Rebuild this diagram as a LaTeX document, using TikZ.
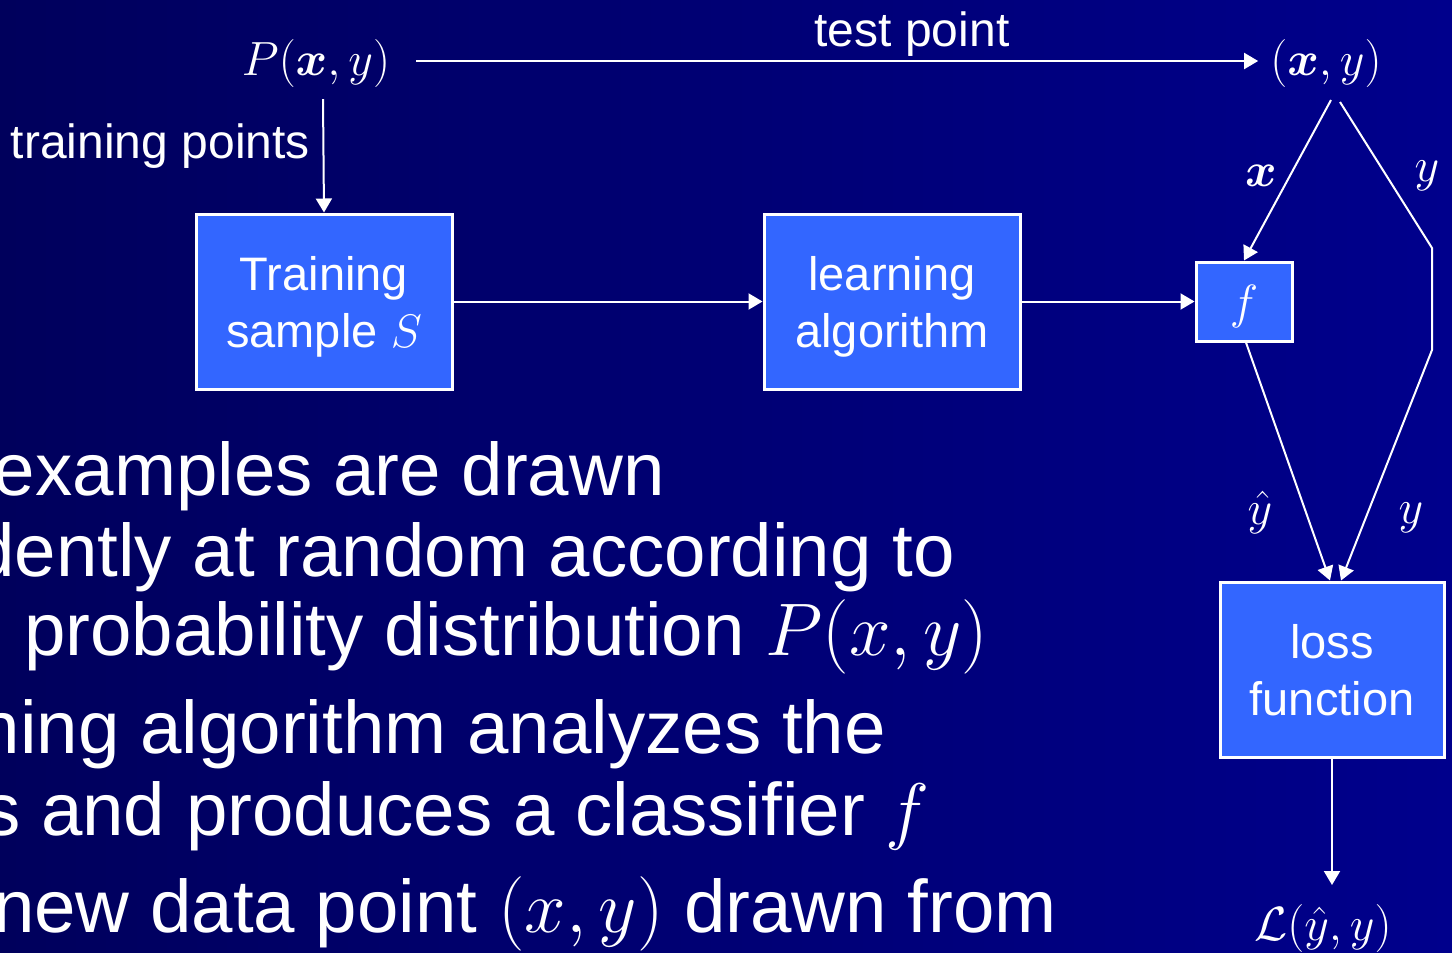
\RequirePackage{fix-cm}
\documentclass[tikz,border=0pt]{standalone}
\usepackage{amsmath,bm}
\usepackage{fontspec}
\setmainfont{Liberation Sans}
\usetikzlibrary{arrows.meta,calc}
\definecolor{bgleft}{RGB}{0,0,92}
\definecolor{bgright}{RGB}{0,0,140}
\definecolor{boxblue}{RGB}{51,102,255}
\begin{document}
\begin{tikzpicture}[x=1pt,y=-1pt,
  box/.style={draw=white, line width=3pt, fill=boxblue, text=white, align=center,
    font=\fontsize{47}{57}\selectfont, inner sep=0pt, text depth=0pt},
  lbl/.style={text=white, inner sep=0pt, font=\fontsize{48}{58}\selectfont},
  arr/.style={draw=white, line width=2pt, -{Triangle[length=14pt,width=16pt]}},
  body/.style={text=white, inner sep=0pt, anchor=base east, font=\fontsize{74.5}{80}\selectfont}]
\fill[left color=bgleft, right color=bgright] (0,0) rectangle (1452,953);
\useasboundingbox (0,0) rectangle (1452,953);
\clip (0,0) rectangle (1452,953);

% labels
\node[lbl] (P) at (316,64) {$P(\bm{x},y)$};
\node[lbl] (xy) at (1326,64) {$(\bm{x},y)$};
\node[lbl, anchor=base] (tp) at (912,46) {test point};
\node[lbl, anchor=base east] (trp) at (310,158) {training points};

% boxes
\node[box, minimum width=256pt, minimum height=175pt] (ts) at (324,301.5) {Training\\sample $S$};
\node[box, minimum width=256pt, minimum height=175pt] (la) at (892,301.5) {learning\\algorithm};
\node[box, minimum width=96pt, minimum height=79pt, font=\fontsize{48}{58}\selectfont] (fb) at (1244,301.5) {$f$};
\node[box, minimum width=224pt, minimum height=175pt] (loss) at (1332,669.5) {loss\\function};

% edge labels
\node[lbl] (lx) at (1261,176) {$\bm{x}$};
\node[lbl] (ly1) at (1427,176) {$y$};
\node[lbl] (lyh) at (1260,512) {$\hat{y}$};
\node[lbl] (ly2) at (1411,518) {$y$};
\node[lbl] (L) at (1323,928) {$\mathcal{L}(\hat{y},y)$};

% coordinates
\coordinate (xs) at (1331,100);
\coordinate (ys) at (1340,102);
\coordinate (yb1) at (1432,248);
\coordinate (yb2) at (1432,350);
\coordinate (Lt) at (1332,885);

% connectors
\draw[arr] ($(P.east)+(26,-3)$) -- ($(xy.west)+(-12,-3)$);
\draw[arr] ($(P.south)+(7,11)$) -- (ts.north);
\draw[arr] (ts.east) -- (la.west);
\draw[arr] (la.east) -- (fb.west);
\draw[arr] (xs) -- (fb.north);
\draw[arr] (ys) -- (yb1) -- (yb2) -- ($(loss.north)+(9,0)$);
\draw[arr] ($(fb.south)+(2,0)$) -- ($(loss.north)+(-2,0)$);
\draw[arr] (loss.south) -- (Lt);

% body text
\node[body] (t1) at (665,495) {examples are drawn};
\node[body] (t2) at (955,576) {dently at random according to};
\node[body] (t3) at (988,655) {probability distribution $P(x,y)$};
\node[body] (t4) at (886,753) {ning algorithm analyzes the};
\node[body] (t5) at (930,835) {es and produces a classifier $f$};
\node[body] (t6) at (1057,932) {new data point $(x,y)$ drawn from};
\end{tikzpicture}
\end{document}
